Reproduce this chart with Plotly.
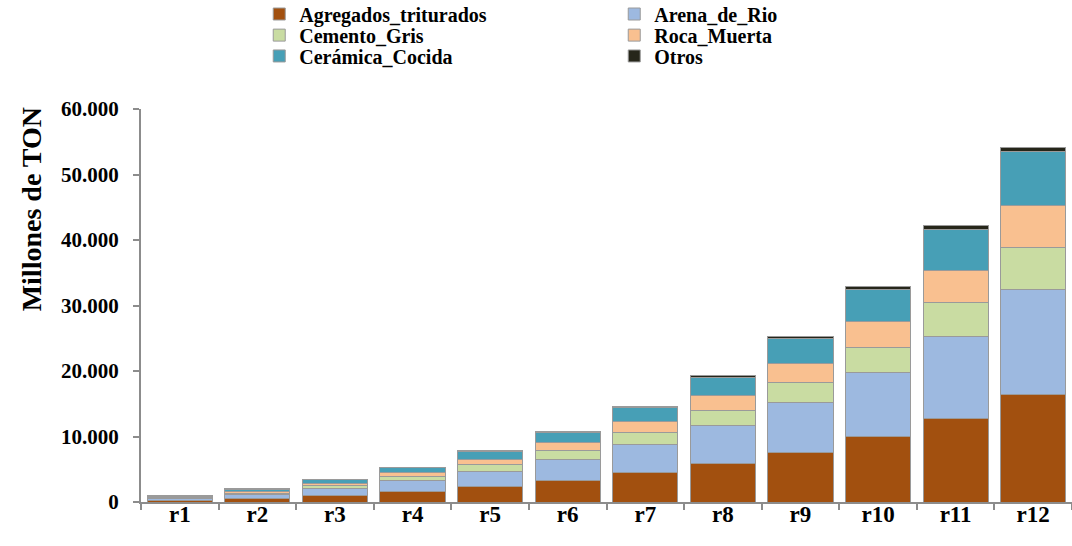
import plotly.graph_objects as go

# Categories and stacked series (millions of tonnes)
categories = ["r1", "r2", "r3", "r4", "r5", "r6", "r7", "r8", "r9", "r10", "r11", "r12"]

agregados_triturados = [250, 560, 920, 1580, 2340, 3250, 4480, 5900, 7590, 9980, 12770, 16440]
arena_de_rio = [250, 510, 1110, 1680, 2390, 3310, 4370, 5750, 7630, 9770, 12570, 16030]
cemento_gris = [130, 300, 460, 710, 920, 1280, 1730, 2290, 3000, 3860, 5090, 6410]
roca_muerta = [110, 240, 370, 560, 860, 1270, 1680, 2290, 2950, 3920, 4990, 6460]
ceramica_cocida = [160, 340, 550, 740, 1180, 1480, 2140, 2800, 3820, 4940, 6260, 8140]
otros = [20, 40, 50, 70, 100, 150, 210, 260, 350, 400, 610, 670]

series_names = ["Agregados_triturados", "Arena_de_Rio", "Cemento_Gris",
                "Roca_Muerta", "Cerámica_Cocida", "Otros"]
series_values = [agregados_triturados, arena_de_rio, cemento_gris,
                 roca_muerta, ceramica_cocida, otros]
series_colors = ["#A2500F", "#9DB9E0", "#C9DCA2", "#F9C090", "#479FB6", "#26261A"]

y_ticks = [0, 10000, 20000, 30000, 40000, 50000, 60000]
y_tick_text = ["0", "10.000", "20.000", "30.000", "40.000", "50.000", "60.000"]

font_family = "Liberation Serif, Times New Roman, serif"

# two legend entries per row, one legend box per row
legend_ids = ["legend", "legend", "legend2", "legend2", "legend3", "legend3"]
legend_rows_y = [1.2417, 1.188, 1.135]

fig = go.Figure()
for name, values, color, lg in zip(series_names, series_values, series_colors, legend_ids):
    fig.add_trace(go.Bar(
        name=name,
        x=categories,
        y=values,
        legend=lg,
        marker=dict(color=color, line=dict(color="#9A9A9A", width=1)),
    ))

legend_style = dict(
    orientation="h",
    x=0.127,
    xanchor="left",
    yanchor="middle",
    entrywidth=310,
    entrywidthmode="pixels",
    traceorder="normal",
    bgcolor="rgba(0,0,0,0)",
    borderwidth=0,
    font=dict(family=font_family, size=20, color="black", weight="bold"),
)

fig.update_layout(
    barmode="stack",
    bargap=0.16,
    width=1072,
    height=546,
    margin=dict(l=141, r=0, t=109, b=44, autoexpand=False),
    paper_bgcolor="white",
    plot_bgcolor="white",
    font=dict(family=font_family, color="black", size=20),
    legend=dict(legend_style, y=legend_rows_y[0]),
    legend2=dict(legend_style, y=legend_rows_y[1]),
    legend3=dict(legend_style, y=legend_rows_y[2]),
    xaxis=dict(
        showline=True,
        linecolor="#8C8C8C",
        linewidth=2,
        ticks="outside",
        tickson="boundaries",
        ticklen=6,
        tickcolor="#8C8C8C",
        tickwidth=2,
        ticklabelstandoff=-10,
        tickfont=dict(family=font_family, size=23, color="black", weight="bold"),
        showgrid=False,
    ),
    yaxis=dict(
        range=[0, 60000],
        tickvals=y_ticks,
        ticktext=y_tick_text,
        showline=True,
        linecolor="#8C8C8C",
        linewidth=2,
        ticks="outside",
        ticklen=6,
        tickcolor="#8C8C8C",
        tickwidth=2,
        ticklabelstandoff=10,
        showgrid=False,
        zeroline=False,
        tickfont=dict(family=font_family, size=21, color="black", weight="bold"),
    ),
    annotations=[dict(
        text="Millones de TON",
        textangle=-90,
        xref="paper", yref="paper",
        x=-0.118, y=0.745,
        xanchor="center", yanchor="middle",
        showarrow=False,
        font=dict(family=font_family, size=28, color="black", weight="bold"),
    )],
)

fig.write_html("out.html")
